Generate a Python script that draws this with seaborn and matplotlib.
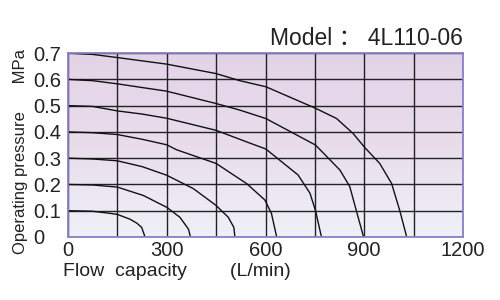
import numpy as np
import pandas as pd
import matplotlib
matplotlib.use("Agg")
import matplotlib.pyplot as plt
import seaborn as sns
from matplotlib.colors import LinearSegmentedColormap

# Data: flow (L/min) vs pressure (MPa) for each supply pressure curve
flow_01 = [0, 75, 128, 150, 188, 210, 224, 234]
pres_01 = [0.1, 0.098, 0.09, 0.086, 0.068, 0.052, 0.036, 0.0]
flow_02 = [0, 75, 150, 229, 300, 340, 366, 372]
pres_02 = [0.2, 0.198, 0.19, 0.158, 0.113, 0.075, 0.03, 0.0]
flow_03 = [0, 75, 150, 225, 300, 381, 450, 487, 504, 507]
pres_03 = [0.3, 0.297, 0.29, 0.268, 0.235, 0.184, 0.12, 0.075, 0.036, 0.0]
flow_04 = [0, 75, 150, 225, 300, 330, 450, 543, 598, 618, 634]
pres_04 = [0.4, 0.397, 0.39, 0.372, 0.351, 0.332, 0.28, 0.203, 0.141, 0.09, 0.0]
flow_05 = [0, 75, 150, 225, 300, 450, 547, 601, 699, 735, 752, 770]
pres_05 = [0.5, 0.497, 0.48, 0.468, 0.452, 0.406, 0.36, 0.335, 0.236, 0.167, 0.1, 0.0]
flow_06 = [0, 75, 150, 300, 450, 522, 601, 752, 826, 856, 876, 898]
pres_06 = [0.6, 0.595, 0.583, 0.555, 0.508, 0.483, 0.451, 0.35, 0.255, 0.192, 0.1, 0.0]
flow_07 = [0, 75, 150, 300, 450, 522, 601, 752, 816, 866, 902, 947, 983, 1008, 1029]
pres_07 = [0.7, 0.695, 0.683, 0.658, 0.622, 0.595, 0.572, 0.49, 0.451, 0.394, 0.34, 0.28, 0.204, 0.1, 0.0]

x_ticks = [0, 150, 300, 450, 600, 750, 900, 1050, 1200]
x_labels = ["0", "", "300", "", "600", "", "900", "", "1200"]
y_ticks = [0, 0.1, 0.2, 0.3, 0.4, 0.5, 0.6, 0.7]
y_labels = ["0", "0.1", "0.2", "0.3", "0.4", "0.5", "0.6", "0.7"]

curves = [(flow_01, pres_01, "0.1"), (flow_02, pres_02, "0.2"), (flow_03, pres_03, "0.3"),
          (flow_04, pres_04, "0.4"), (flow_05, pres_05, "0.5"), (flow_06, pres_06, "0.6"),
          (flow_07, pres_07, "0.7")]
df = pd.concat([pd.DataFrame({"flow": f, "pressure": p, "curve": c}) for f, p, c in curves],
               ignore_index=True)

sns.set_style("white")
plt.rcParams['font.family'] = ['Liberation Sans', 'Noto Sans CJK SC', 'DejaVu Sans']

fig = plt.figure(figsize=(5, 3), dpi=100)
ax = fig.add_axes([0.136, 0.21, 0.79, 0.613])

# gradient background
cmap = LinearSegmentedColormap.from_list("bg", ["#eef1f9", "#e9ddec", "#e3d3e8"])
grad = np.linspace(0, 1, 256).reshape(-1, 1)
ax.imshow(grad, aspect="auto", cmap=cmap, origin="lower",
          extent=[0, 1200, 0, 0.7], zorder=0)

sns.lineplot(data=df, x="flow", y="pressure", hue="curve", units="curve", estimator=None,
             palette=["#111111"] * 7, legend=False, linewidth=1.0, sort=False, ax=ax, zorder=3)

ax.set_xlim(0, 1200)
ax.set_ylim(0, 0.7)
ax.set_xticks(x_ticks)
ax.set_xticklabels(x_labels)
ax.set_yticks(y_ticks)
ax.set_yticklabels(y_labels, ha="left")
ax.tick_params(length=0, labelsize=14.5, colors="#222222")
ax.tick_params(axis="y", pad=25)
ax.tick_params(axis="x", pad=3)
ax.grid(True, color="#222222", linewidth=1.0, zorder=2)
ax.set_axisbelow(False)
for s in ax.spines.values():
    s.set_color("#8a80c4")
    s.set_linewidth(1.3)
    s.set_zorder(4)

ax.set_xlabel("Flow  capacity        (L/min)", fontsize=14, color="#222222")
ax.xaxis.set_label_coords(0.275, -0.14)
ax.set_ylabel("Operating pressure      MPa", fontsize=12, color="#222222")
ax.yaxis.set_label_coords(-0.102, 0.465)

ax.text(1.0, 1.02, "Model ： 4L110-06", transform=ax.transAxes, ha="right", va="bottom",
        fontsize=16.5, color="#222222")

fig.savefig("out.png", dpi=100, facecolor="white")
